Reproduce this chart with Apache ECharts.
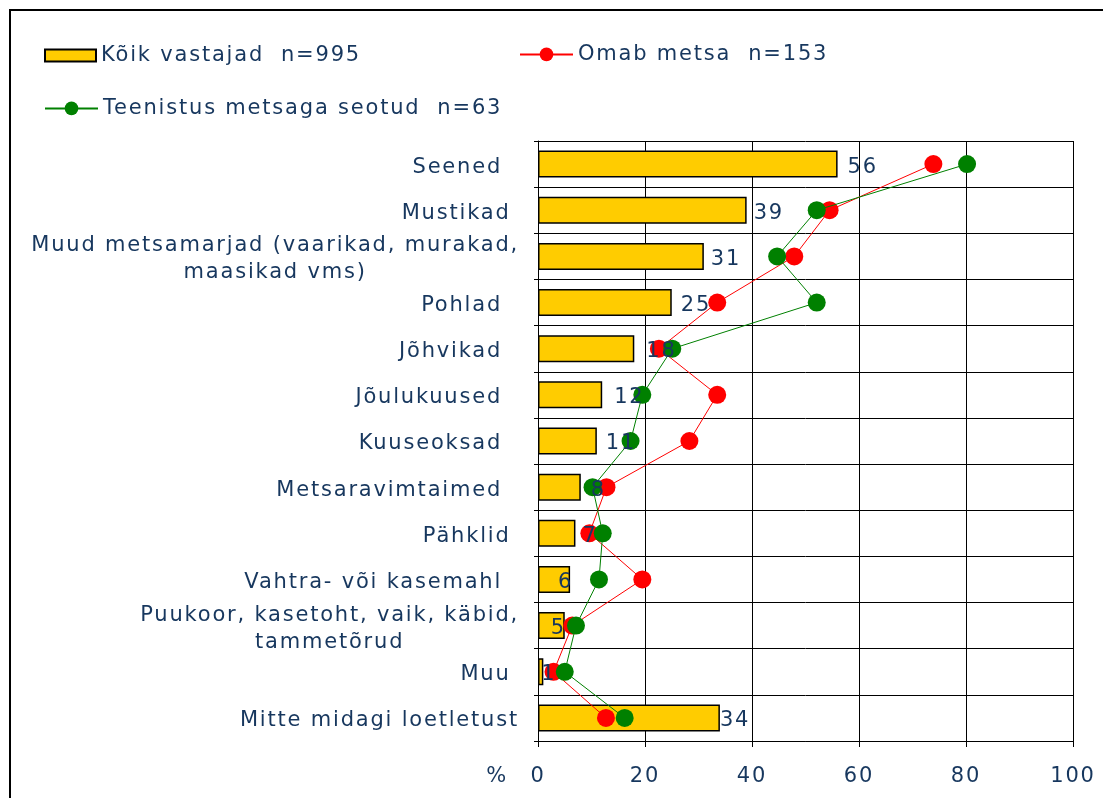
<!DOCTYPE html>
<html>
<head>
<meta charset="utf-8">
<script src="https://cdn.jsdelivr.net/npm/echarts@6/dist/echarts.min.js"></script>
<style>
  html, body { margin: 0; padding: 0; background: #fff; }
  #chart { width: 1103px; height: 798px; }
</style>
</head>
<body>
<div id="chart"></div>
<script>
const categories = [
  'Seened  ',
  'Mustikad ',
  'Muud metsamarjad (vaarikad, murakad,\nmaasikad vms)',
  'Pohlad  ',
  'Jõhvikad  ',
  'Jõulukuused  ',
  'Kuuseoksad  ',
  'Metsaravimtaimed  ',
  'Pähklid ',
  'Vahtra- või kasemahl  ',
  'Puukoor, kasetoht, vaik, käbid,\ntammetõrud',
  'Muu ',
  'Mitte midagi loetletust'
];
const allRespondents = [56, 39, 31, 25, 18, 12, 11, 8, 7, 6, 5, 1, 34];
const forestOwners = [73.9, 54.5, 47.9, 33.5, 22.6, 33.5, 28.3, 12.8, 9.6, 19.5, 6.4, 2.9, 12.7];
const forestJobs = [80.2, 52.1, 44.7, 52.1, 25.1, 19.5, 17.3, 10.2, 12.1, 11.4, 7.1, 5.0, 16.2];
const xTicks = [0, 20, 40, 60, 80, 100];

const names = ['Kõik vastajad  n=995', 'Omab metsa  n=153', 'Teenistus metsaga seotud  n=63'];

// where Excel put the value labels, px right of the bar end
const labelShift = [10, 7, 7, 9, 12, 12, 9, 10, 7, -12, -14, -2, 0];

const navy = '#17375e';
const font = 'DejaVu Sans';
const fontSize = 21;

// the Excel export has loose tracking; give 21px canvas text some letter spacing
const fontProp = Object.getOwnPropertyDescriptor(CanvasRenderingContext2D.prototype, 'font');
Object.defineProperty(CanvasRenderingContext2D.prototype, 'font', {
  configurable: true,
  get() { return fontProp.get.call(this); },
  set(v) {
    fontProp.set.call(this, v);
    this.letterSpacing = /\b21px\b/.test(v) ? '1.8px' : '0px';
  }
});

const chart = echarts.init(document.getElementById('chart'));

const legendBase = {
  orient: 'horizontal',
  padding: 0,
  itemHeight: 17,
  textStyle: { fontFamily: font, fontSize: fontSize, color: navy },
  selectedMode: false
};

chart.setOption({
  animation: false,
  textStyle: { fontFamily: font },
  graphic: [{
    type: 'rect',
    z: -1,
    shape: { x: 10, y: 10, width: 1200, height: 900 },
    style: { fill: 'none', stroke: '#000', lineWidth: 2 }
  }],
  legend: [
    Object.assign({}, legendBase, { data: [{ name: names[0], icon: 'rect' }], left: 44, top: 44, itemWidth: 51, itemHeight: 12 }),
    Object.assign({}, legendBase, { data: [names[1]], left: 519, top: 43, itemWidth: 53 }),
    Object.assign({}, legendBase, { data: [names[2]], left: 44, top: 97, itemWidth: 53 })
  ],
  grid: { left: 538, right: 30, top: 141, bottom: 57, containLabel: false },
  xAxis: {
    type: 'value',
    min: xTicks[0],
    max: xTicks[xTicks.length - 1],
    interval: 20,
    name: '%',
    nameLocation: 'start',
    nameGap: 30,
    nameTextStyle: { fontSize: fontSize, color: navy, verticalAlign: 'top', padding: [24, 0, 0, 0] },
    axisLine: { show: true, lineStyle: { color: '#000', width: 1 } },
    axisTick: { show: true, length: 6, lineStyle: { color: '#000' } },
    axisLabel: { fontSize: fontSize, color: navy, margin: 24 },
    splitLine: { show: true, lineStyle: { color: '#000', width: 1 } }
  },
  yAxis: {
    type: 'category',
    inverse: true,
    data: categories,
    axisLine: { show: true, lineStyle: { color: '#000', width: 1 } },
    axisTick: { show: true, length: 4, lineStyle: { color: '#000' } },
    splitLine: { show: true, lineStyle: { color: '#000', width: 1 } },
    axisLabel: {
      margin: 19,
      interval: 0,
      padding: [6, 0, 0, 0],
      formatter: v => v.split('\n').map(s => '{c|' + s + '}').join('\n'),
      rich: {
        c: { fontFamily: font, fontSize: fontSize, color: navy, align: 'center', lineHeight: 27 }
      }
    }
  },
  series: [
    {
      name: names[0],
      type: 'bar',
      data: allRespondents,
      barWidth: 27,
      z: 2,
      itemStyle: { color: '#ffcc00', borderColor: '#000', borderWidth: 1.5 }
    },
    {
      name: names[1],
      type: 'line',
      data: forestOwners,
      z: 3,
      symbol: 'circle',
      symbolSize: 18,
      showAllSymbol: true,
      itemStyle: { color: '#ff0000' },
      lineStyle: { color: '#ff0000', width: 1 }
    },
    {
      name: names[2],
      type: 'line',
      data: forestJobs,
      z: 4,
      symbol: 'circle',
      symbolSize: 18,
      showAllSymbol: true,
      itemStyle: { color: '#008000' },
      lineStyle: { color: '#008000', width: 1 }
    },
    {
      // value labels drawn above the lines, like Excel does
      name: 'labels',
      type: 'bar',
      data: allRespondents.map((v, i) => ({
        value: v,
        label: { offset: [labelShift[i], 3] }
      })),
      barWidth: 27,
      barGap: '-100%',
      z: 10,
      silent: true,
      itemStyle: { color: 'transparent' },
      label: {
        show: true,
        position: 'right',
        distance: 0,
        fontFamily: font,
        fontSize: fontSize,
        color: navy
      }
    }
  ]
});
</script>
</body>
</html>
